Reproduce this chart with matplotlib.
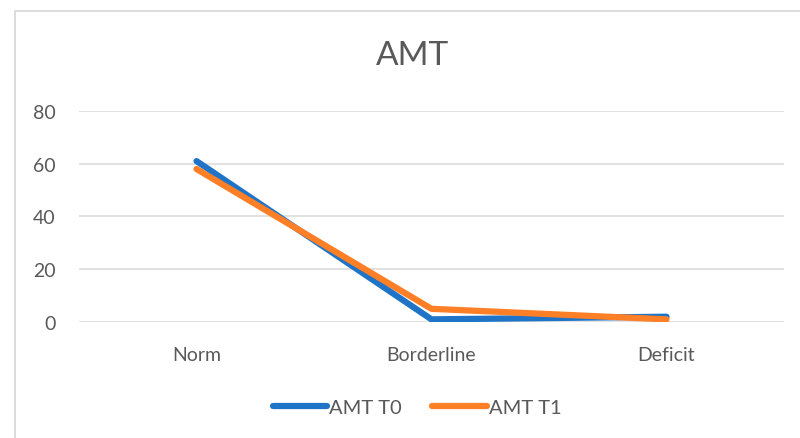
import matplotlib
matplotlib.use("Agg")
import matplotlib.pyplot as plt
from matplotlib.patches import Rectangle
from matplotlib.lines import Line2D

categories = ["Norm", "Borderline", "Deficit"]
amt_t0 = [61, 1, 2]
amt_t1 = [58, 5, 1]
y_ticks = [0, 20, 40, 60, 80]

plt.rcParams['font.family'] = ['Lato', 'DejaVu Sans']
text_color = "#595959"
grid_color = "#D9D9D9"
blue = "#1F74C8"
orange = "#FF7F27"

W, H = 800, 439
fig = plt.figure(figsize=(W / 100, H / 100), dpi=100)

# chart area frame
fig.patches.append(Rectangle((15 / W, -0.1), 1.2, 1 - 12 / H + 0.1,
                             transform=fig.transFigure, fill=False,
                             edgecolor=grid_color, linewidth=1.3))

ax = fig.add_axes([79 / W, 1 - 323 / H, (784 - 79) / W, (323 - 112) / H])
x = range(len(categories))
ax.plot(x, amt_t0, color=blue, linewidth=4.5, solid_capstyle="round",
        solid_joinstyle="round", label="AMT T0", zorder=3)
ax.plot(x, amt_t1, color=orange, linewidth=4.5, solid_capstyle="round",
        solid_joinstyle="round", label="AMT T1", zorder=4)

ax.set_xlim(-0.5, len(categories) - 0.5)
ax.set_ylim(0, 80)
ax.set_yticks(y_ticks)
ax.set_xticks(list(x))
ax.set_xticklabels(categories)
ax.yaxis.grid(True, color=grid_color, linewidth=1.1)
ax.set_axisbelow(True)
for s in ax.spines.values():
    s.set_visible(False)
ax.tick_params(axis="both", length=0, labelsize=14, labelcolor=text_color)
ax.tick_params(axis="y", pad=17)
ax.tick_params(axis="x", pad=17)

fig.text(413 / W, 1 - 56 / H, "AMT", ha="center", va="center",
         fontsize=24, color=text_color)

handles = [Line2D([], [], color=blue, linewidth=4.5, solid_capstyle="round"),
           Line2D([], [], color=orange, linewidth=4.5, solid_capstyle="round")]
fig.legend(handles, ["AMT T0", "AMT T1"], loc="center",
           bbox_to_anchor=(417 / W, 1 - 408 / H), ncol=2, frameon=False,
           fontsize=14.5, labelcolor=text_color, handlelength=2.7,
           handletextpad=0.1, columnspacing=1.5)

fig.savefig("out.png", dpi=100)
